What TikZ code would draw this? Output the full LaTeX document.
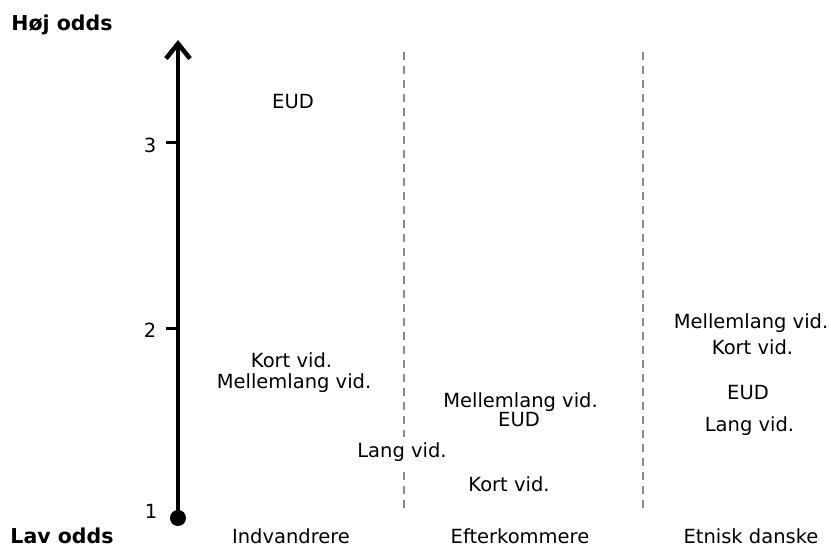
\documentclass[tikz,border=0pt]{standalone}
\usepackage{fontspec}
\setmainfont{DejaVu Sans}
\usetikzlibrary{arrows.meta}

\definecolor{stregfarve}{RGB}{140,140,128}

\begin{document}
\begin{tikzpicture}[x=1pt,y=-1pt]
    \tikzset{tekst/.style = {anchor=base,inner sep=0pt,font=\fontsize{19.5}{22}\selectfont}}
    \tikzset{overskrift/.style = {anchor=base,inner sep=0pt,font=\fontsize{20.5}{22}\selectfont\bfseries}}
    \tikzset{udd/.style = {tekst,fill=white,inner xsep=1pt,inner ysep=5pt}}
    \tikzset{skillelinje/.style = {draw=stregfarve,line width=2pt,dash pattern=on 8pt off 6pt}}
    \tikzset{akse/.style = {line width=4.5pt,-{Straight Barb[length=15pt,width=24pt]}}}
    \tikzset{tak/.style = {line width=3pt}}

    \useasboundingbox (0,0) rectangle (831,551);

    % skillelinjer mellem grupperne
    \coordinate (skilleAtop) at (404,52);
    \coordinate (skilleAbund) at (404,508);
    \coordinate (skilleBtop) at (643,52);
    \coordinate (skilleBbund) at (643,508);
    \draw[skillelinje] (skilleAtop) -- (skilleAbund);
    \draw[skillelinje] (skilleBtop) -- (skilleBbund);

    % aksen
    \coordinate (bund) at (178,518);
    \coordinate (top) at (178,40);
    \draw[akse] (bund) -- (top);
    \fill (bund) circle (8);

    \foreach \v/\y in {2/328, 3/142} {
        \coordinate (tak\v) at (178,\y);
        \draw[tak] (tak\v) -- ++(-12,0);
    }
    \node[tekst] (tal3) at (150,153) {3};
    \node[tekst] (tal2) at (150,337) {2};
    \node[tekst] (tal1) at (151,518) {1};

    \node[overskrift] (hoej) at (62,31) {Høj odds};
    \node[overskrift] (lav) at (62,543) {Lav odds};

    % grupper
    \node[tekst] (indv) at (291,543) {Indvandrere};
    \node[tekst] (efterk) at (520,543) {Efterkommere};
    \node[tekst] (etnisk) at (751,543) {Etnisk danske};

    % indvandrere
    \node[tekst] (indvEUD) at (293,109) {EUD};
    \node[tekst] (indvKort) at (291.5,367) {Kort vid.};
    \node[tekst] (indvMellem) at (294,388) {Mellemlang vid.};
    \node[udd] (indvLang) at (402,457) {Lang vid.};

    % efterkommere
    \node[tekst] (efterkMellem) at (520.5,407) {Mellemlang vid.};
    \node[tekst] (efterkEUD) at (519,426) {EUD};
    \node[tekst] (efterkKort) at (509,491) {Kort vid.};

    % etnisk danske
    \node[tekst] (etniskMellem) at (751,328) {Mellemlang vid.};
    \node[tekst] (etniskKort) at (752.5,354) {Kort vid.};
    \node[tekst] (etniskEUD) at (748,399) {EUD};
    \node[tekst] (etniskLang) at (749.5,431) {Lang vid.};

\end{tikzpicture}
\end{document}
